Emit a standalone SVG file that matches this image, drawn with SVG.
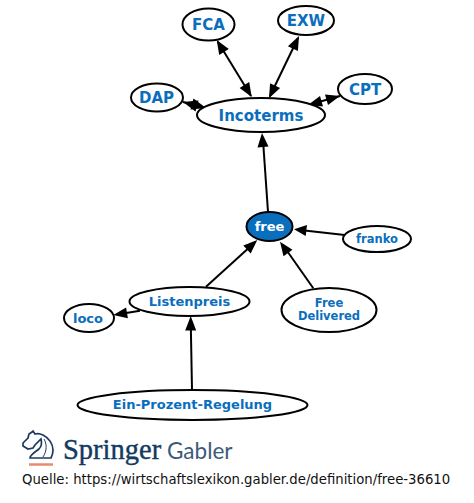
<svg xmlns="http://www.w3.org/2000/svg" width="474" height="503" viewBox="0 0 474 503">
<style>
.n{fill:#fff;stroke:#000;stroke-width:2}
.t{font-family:"DejaVu Sans",sans-serif;font-weight:700;fill:#0a6ebd;text-anchor:middle}
.c line{stroke:#000;stroke-width:2}
.c polygon{fill:#000}
</style>
<rect width="474" height="503" fill="#fff"/>
<g id="connectors" class="c">
<line x1="218" y1="42" x2="251" y2="96"/>
<polygon points="216.700,40 228.800,49.100 219.200,54.900"/>
<polygon points="251.700,97 239.600,87.900 249.200,82.100"/>
<line x1="298" y1="38" x2="270" y2="96"/>
<polygon points="299,36 297.900,51 287.900,46.200"/>
<polygon points="269,98.300 270.100,83.300 280.100,88.100"/>
<line x1="183" y1="102" x2="206" y2="108"/>
<polygon points="183,102 198.500,100.500 195.500,111.500"/>
<polygon points="206,108 190.500,109.500 193.500,98.500"/>
<line x1="340" y1="96" x2="308" y2="105"/>
<polygon points="340,96 328,105 325,94.500"/>
<polygon points="308,105 320,96 323,106.500"/>
<line x1="268" y1="212" x2="263" y2="140"/>
<polygon points="262,133 268.500,146.600 257.500,147.400"/>
<line x1="344.700" y1="235" x2="300" y2="230"/>
<polygon points="294,229.300 307,225 305.700,236"/>
<line x1="313.300" y1="288.300" x2="285" y2="248"/>
<polygon points="280,241.700 292.500,249.800 283.500,256.200"/>
<line x1="206" y1="286.700" x2="252" y2="245"/>
<polygon points="257.300,240 250.700,253.600 243.300,245.400"/>
<line x1="140" y1="310.700" x2="120" y2="314"/>
<polygon points="113.300,315 126.100,307.400 127.900,318.200"/>
<line x1="192" y1="390" x2="190.800" y2="325"/>
<polygon points="190.700,316 196.200,330.500 185.200,330.500"/>
</g>
<g id="node-fca"><ellipse class="n" cx="208.500" cy="24.500" rx="26" ry="16"/><text class="t" x="208.500" y="30" font-size="15">FCA</text></g>
<g id="node-exw"><ellipse class="n" cx="306" cy="20.500" rx="28" ry="14.500"/><text class="t" x="306" y="26" font-size="15">EXW</text></g>
<g id="node-dap"><ellipse class="n" cx="157" cy="97.500" rx="26" ry="14"/><text class="t" x="156.500" y="103" font-size="15">DAP</text></g>
<g id="node-cpt"><ellipse class="n" cx="365" cy="89" rx="27" ry="15"/><text class="t" x="365" y="94.500" font-size="15">CPT</text></g>
<g id="node-incoterms"><ellipse class="n" cx="261" cy="115" rx="64" ry="17"/><text class="t" x="261" y="120.500" font-size="15">Incoterms</text></g>
<g id="node-free"><ellipse cx="269.500" cy="226.500" rx="23" ry="14.500" fill="#0a6ebd" stroke="#000" stroke-width="2"/><text class="t" x="269.500" y="231" font-size="13" style="fill:#fff">free</text></g>
<g id="node-franko"><ellipse class="n" cx="377" cy="239" rx="34" ry="13"/><text class="t" x="377" y="243" font-size="11.500">franko</text></g>
<g id="node-listenpreis"><ellipse class="n" cx="189.500" cy="301.500" rx="60" ry="14.500"/><text class="t" x="189.500" y="305.500" font-size="13">Listenpreis</text></g>
<g id="node-free-delivered"><ellipse class="n" cx="329" cy="310" rx="47.500" ry="22"/><text class="t" x="329" y="307" font-size="11.500">Free</text><text class="t" x="329" y="320" font-size="11.500">Delivered</text></g>
<g id="node-loco"><ellipse class="n" cx="89" cy="318" rx="25" ry="14"/><text class="t" x="88" y="322.500" font-size="13">loco</text></g>
<g id="node-ein-prozent"><ellipse class="n" cx="192.500" cy="405" rx="115" ry="15"/><text class="t" x="192.500" y="409" font-size="13">Ein-Prozent-Regelung</text></g>
<g id="logo">
<path d="M33 431l2 3c3-1 6 0 8 1 6 3 10 9 10 15 0 3-1 6-2 8H30c0-3 5-6 9-9 3-3 3-6 2-10l-6 6-2 3-5 1-5-3 0-3 5-5 1-4 3-2z" fill="none" stroke="#1c3a5e" stroke-width="1.700"/>
<path d="M44 439c3 5 3 12-1 18" fill="none" stroke="#1c3a5e" stroke-width="1"/>
<line x1="29" y1="464.500" x2="53" y2="464.500" stroke="#e98a6c" stroke-width="2.500"/>
<text x="63" y="459" font-family="'Liberation Serif',serif" font-size="28.500" fill="#143a62" stroke="#143a62" stroke-width=".4">Springer</text>
<text x="167" y="459" font-family="Lato,sans-serif" font-size="22.500" fill="#3d5a78">Gabler</text>
</g>
<text x="22" y="484" font-family="'DejaVu Sans',sans-serif" font-size="13.250" fill="#111">Quelle: https://wirtschaftslexikon.gabler.de/definition/free-36610</text>
</svg>
